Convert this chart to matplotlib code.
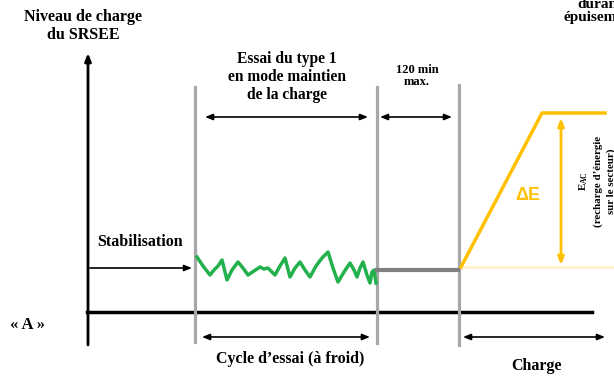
import matplotlib.pyplot as plt

# --- données du schéma (coordonnées en pixels de l'image) ---
PHASE_X = [88, 195, 377, 459]          # axe, début essai, fin essai, fin 120 min
BASELINE_Y = 312                        # niveau « A »
AXIS_TOP, AXIS_BOTTOM = 53, 345
STAB_Y = 268

WIGGLE_X = [197, 203, 210, 214, 218, 222, 227, 232, 238, 243, 248, 254, 260, 264,
            268, 272, 275, 280, 285, 290, 295, 300, 305, 310, 316, 322, 328, 333,
            338, 344, 350, 354, 357, 360, 363, 367, 370, 372, 374, 376]
WIGGLE_Y = [257, 266, 275, 270, 266, 260, 280, 270, 262, 268, 275, 271, 267, 269,
            268, 272, 275, 266, 258, 277, 268, 262, 270, 277, 266, 258, 252, 268,
            282, 272, 263, 270, 277, 268, 262, 275, 283, 272, 270, 283]

REST_Y = 270
RAMP_X = [461, 542, 605]
RAMP_Y = [267, 113, 113]

GREEN = '#22b14c'
YELLOW = '#ffc000'
GRAY = '#a8a8a8'
SERIF = 'Liberation Serif'

fig = plt.figure(figsize=(6.14, 3.78), dpi=100)
ax = fig.add_axes([0, 0, 1, 1])
ax.set_xlim(0, 614)
ax.set_ylim(378, 0)
ax.axis('off')


def arrow(x0, y0, x1, y1, style='<|-|>', color='black', lw=1.2):
    ax.annotate('', xy=(x1, y1), xytext=(x0, y0),
                arrowprops=dict(arrowstyle=style + ',head_length=0.45,head_width=0.18',
                                color=color, lw=lw, shrinkA=0, shrinkB=0))


# axe vertical et ligne de base
arrow(PHASE_X[0], AXIS_BOTTOM, PHASE_X[0], AXIS_TOP, style='-|>', lw=2)
ax.plot([87, 592], [BASELINE_Y, BASELINE_Y], color='black', lw=2.5)

# séparations de phases
ax.plot([PHASE_X[1]] * 2, [87, 342], color=GRAY, lw=2.3)
ax.plot([PHASE_X[2]] * 2, [87, 343], color=GRAY, lw=2.3)
ax.plot([PHASE_X[3]] * 2, [85, 345], color=GRAY, lw=2.3)

# courbes
ax.plot(WIGGLE_X, WIGGLE_Y, color=GREEN, lw=2.5)
ax.plot([PHASE_X[2], PHASE_X[3] - 1], [REST_Y, REST_Y], color='#808080', lw=3)
ax.plot([462, 614], [267, 267], color='#fff2cc', lw=2)
ax.plot(RAMP_X, RAMP_Y, color=YELLOW, lw=2.5)

# flèches
arrow(90, STAB_Y, 192, STAB_Y, style='-|>')
arrow(205, 117, 368, 117)
arrow(380, 117, 452, 117)
arrow(202, 337, 370, 337)
arrow(463, 337, 605, 337)
arrow(561, 118, 561, 265, color=YELLOW, lw=2)

# textes
bold = dict(family=SERIF, weight='bold', ha='center', va='center')
ax.text(83, 26, 'Niveau de charge\ndu SRSEE', fontsize=11.5, linespacing=1.1, **bold)
ax.text(600, 11, 'durant\népuisement', fontsize=11, linespacing=1.05, **bold)
ax.text(287, 77, 'Essai du type 1\nen mode maintien\nde la charge', fontsize=11.2,
        linespacing=1.2, **bold)
ax.text(417, 76, '120 min\nmax.', fontsize=9, linespacing=1.05, **bold)
ax.text(140, 242, 'Stabilisation', fontsize=11.5, **bold)
ax.text(28, 325, '« A »', fontsize=12, **bold)
ax.text(290, 359, 'Cycle d’essai (à froid)', fontsize=11.5, **bold)
ax.text(537, 366, 'Charge', fontsize=11.5, **bold)
ax.text(528, 195, 'ΔE', fontsize=13, color=YELLOW, family='Liberation Sans',
        weight='bold', ha='center', va='center')
ax.text(597, 181, 'E$_{\\mathregular{AC}}$\n(recharge d’énergie\nsur le secteur)',
        fontsize=7.8, rotation=90, linespacing=1.45, **bold)

fig.savefig('out.png', dpi=100)
